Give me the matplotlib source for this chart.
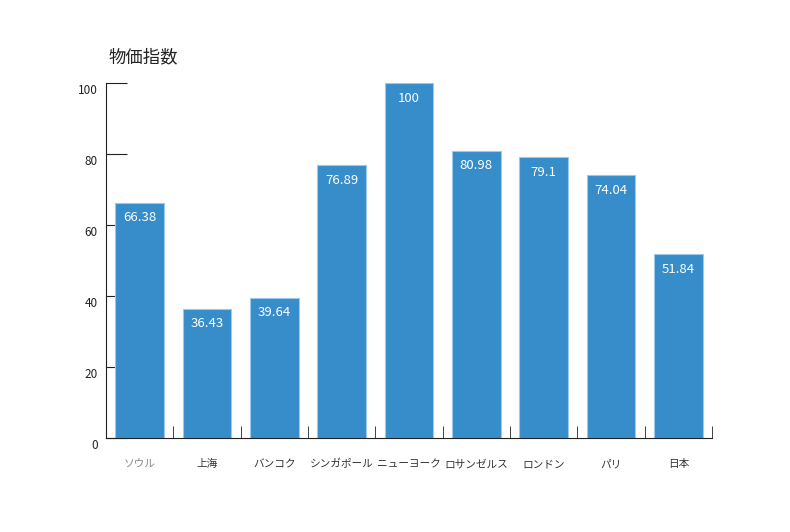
import matplotlib.pyplot as plt
import matplotlib.transforms as mtransforms
import numpy as np

plt.rcParams['font.family'] = ['Noto Sans CJK JP', 'DejaVu Sans']

cities = ["ソウル", "上海", "バンコク", "シンガポール", "ニューヨーク",
          "ロサンゼルス", "ロンドン", "パリ", "日本"]
price_index = [66.38, 36.43, 39.64, 76.89, 100, 80.98, 79.1, 74.04, 51.84]
value_labels = ["66.38", "36.43", "39.64", "76.89", "100", "80.98", "79.1", "74.04", "51.84"]
label_colors = ["#888888"] + ["#333333"] * 8
y_ticks = [0, 20, 40, 60, 80, 100]

fig = plt.figure(figsize=(7.9, 5.32), dpi=100)
ax = fig.add_axes([106 / 790, 1 - 438.3 / 532, (712 - 106) / 790, (438.3 - 83.3) / 532])
ax.set_axisbelow(True)  # bars cover the inward y ticks, as in the original

x = np.arange(len(cities))
ax.bar(x, price_index, width=0.72, color="#368dca", edgecolor="#9cc8ea", linewidth=0.8)

for xi, v, lab in zip(x, price_index, value_labels):
    ax.annotate(lab, (xi, v), xytext=(0, -15), textcoords="offset pixels",
                ha="center", va="center", color="white", fontsize=9.5)

ax.set_xlim(-0.5, len(cities) - 0.5)
ax.set_ylim(0, 100)

for s in ("top", "right"):
    ax.spines[s].set_visible(False)
ax.spines["left"].set_color("#222222")
ax.spines["bottom"].set_color("#222222")

# category boundaries get the ticks, labels sit at bar centres
ax.set_xticks(x)
ax.set_xticklabels(cities, fontsize=7.7)
ax.tick_params(axis="x", which="major", length=0, pad=15)
for lbl, c in zip(ax.get_xticklabels(), label_colors):
    lbl.set_color(c)
ax.set_xticks(np.arange(len(cities) + 1) - 0.5, minor=True)
ax.tick_params(axis="x", which="minor", direction="in", length=9, color="#222222")

ax.set_yticks(y_ticks)
ax.set_yticklabels([str(t) for t in y_ticks], fontsize=8.5, color="#222222")
ax.tick_params(axis="y", direction="in", length=15, color="#222222", pad=6)
offset = mtransforms.ScaledTranslation(0, -6 / 100, fig.dpi_scale_trans)
for lbl in ax.get_yticklabels():
    lbl.set_transform(lbl.get_transform() + offset)

fig.text(108 / 790, 1 - 57 / 532, "物価指数", fontsize=12.5, color="#222222",
         ha="left", va="center")

fig.savefig("out.png", dpi=100)
